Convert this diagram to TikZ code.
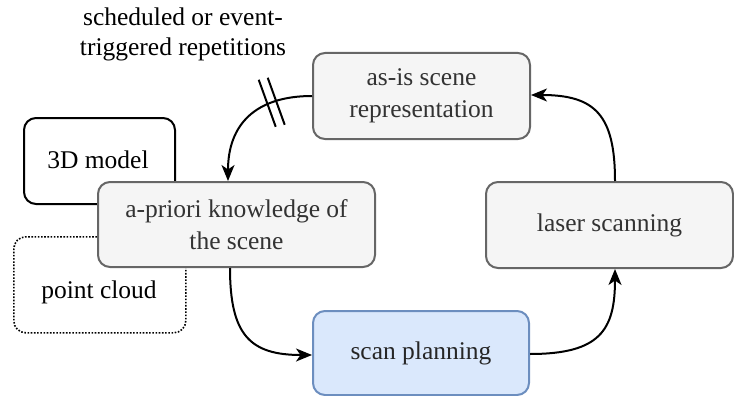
\documentclass[tikz,border=0pt]{standalone}
\usepackage{fontspec}
\setmainfont{Liberation Serif}
\usetikzlibrary{arrows.meta}
\definecolor{greyfill}{HTML}{F5F5F5}
\definecolor{greyline}{HTML}{666666}
\definecolor{greytext}{HTML}{333333}
\definecolor{bluefill}{HTML}{DAE8FC}
\definecolor{blueline}{HTML}{6C8EBF}
\begin{document}
\begin{tikzpicture}[x=1pt,y=-1pt,
  every node/.style={font=\fontsize{25.5}{32.5}\selectfont, align=center, inner sep=0pt},
  box/.style={rectangle, rounded corners=12pt, line width=2pt},
  greybox/.style={box, draw=greyline, fill=greyfill, text=greytext},
  bluebox/.style={box, draw=blueline, fill=bluefill, text=black!85},
  plainbox/.style={box, draw=black, fill=white, text=black},
  dotbox/.style={box, draw=black, line width=1.6pt, dash pattern=on 1.6pt off 1.6pt, text=black},
  conn/.style={line width=2pt, draw=black, -{Stealth[length=16pt,width=13pt,inset=4.5pt]}},
]
\useasboundingbox (0,0) rectangle (734,396);

\node[plainbox, minimum width=151pt, minimum height=86pt, anchor=north west] (model) at (23,117) {};
\node at (98,160) {3D model};
\node[dotbox, minimum width=172pt, minimum height=96pt, anchor=north west] (cloud) at (13,236) {};
\node at (99,292) {point cloud};

\node[greybox, minimum width=277pt, minimum height=85pt] (prior) at (236.5,224.5) {a-priori knowledge of\\the scene};
\node[greybox, minimum width=217pt, minimum height=86pt] (asis) at (421.5,96) {as-is scene\\representation};
\node[greybox, minimum width=247pt, minimum height=86pt] (laser) at (609.5,225) {laser scanning};
\node[bluebox, minimum width=216pt, minimum height=84pt] (plan) at (421,353) {scan planning};

\node[font=\fontsize{25.5}{30}\selectfont] (note) at (183,34) {scheduled or event-\\triggered repetitions};

\draw[conn] (asis.west) .. controls (255,96) and (228,125) .. coordinate[pos=0.3] (h) (prior.north -| 228,0);
\draw[line width=2pt] ([shift={(-10,-24)}]h) -- ([shift={(7,23)}]h);
\draw[line width=2pt] ([shift={(-1,-26)}]h) -- ([shift={(16,21)}]h);
\draw[conn] (prior.south -| 230,0) .. controls (230,335) and (250,355) .. (plan.west |- 0,355);
\draw[conn] (plan.east |- 0,354) .. controls (600,354) and (615,330) .. (laser.south -| 615,0);
\draw[conn] (laser.north -| 615,0) .. controls (615,115) and (595,95) .. (asis.east |- 0,95);
\end{tikzpicture}
\end{document}
